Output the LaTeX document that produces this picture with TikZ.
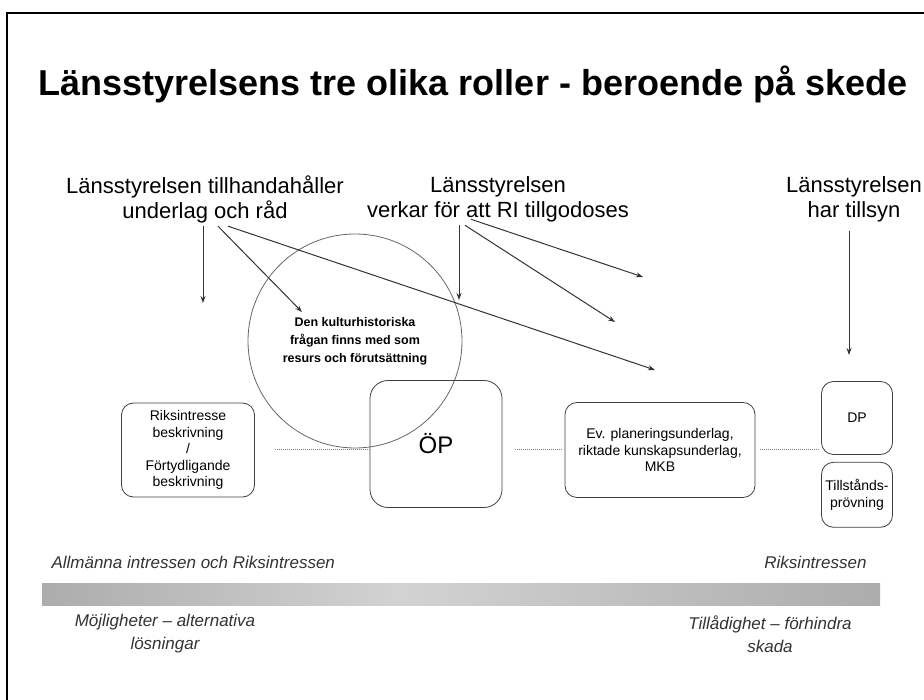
\documentclass[tikz,border=0pt]{standalone}
\usepackage{fontspec}
\setmainfont{Liberation Sans}
\usetikzlibrary{positioning, arrows.meta}

\begin{document}
\begin{tikzpicture}[x=1pt, y=-1pt,
    roundbox/.style={rectangle, rounded corners=12pt, draw=black!75, line width=0.8pt, align=center, inner sep=2pt, font=\fontsize{14}{16.5}\selectfont},
    rolelabel/.style={align=center, font=\fontsize{22}{25}\selectfont},
    thinarrow/.style={-{Stealth[length=7pt, width=5pt]}, line width=1pt, black!80},
    flowline/.style={gray, line width=1pt, densely dotted},
    baselabel/.style={align=center, font=\itshape\fontsize{17}{23}\selectfont, text=black!80}
]
\useasboundingbox (0,0) rectangle (924,700);
% page frame of the scan
\draw[line width=1.2pt] (7,700) -- (7,13) -- (924,13);

\node[font=\bfseries\fontsize{36}{40}\selectfont, anchor=base](title) at (473,96) {Länsstyrelsens tre olika roller - beroende på skede};

% the three roles
\node[rolelabel](role1) at (205,199) {Länsstyrelsen tillhandahåller\\underlag och råd};
\node[rolelabel](role2) at (498,199) {Länsstyrelsen\\verkar för att RI tillgodoses};
\node[rolelabel](role3) at (854,199) {Länsstyrelsen\\har tillsyn};

% circle and boxes
\node[circle, draw=black!60, line width=0.8pt, minimum size=214pt, align=center, font=\bfseries\fontsize{12.5}{18}\selectfont](circ) at (355,341) {Den kulturhistoriska\\frågan finns med som\\resurs och förutsättning};
\node[roundbox, minimum width=133pt, minimum height=94pt](lbox) at (188,450) {Riksintresse\\beskrivning\\/\\Förtydligande\\beskrivning};
\node[roundbox, minimum width=132pt, minimum height=127pt, rounded corners=18pt, font=\fontsize{24}{28}\selectfont](op) at (436,444) {ÖP};
\node[roundbox, minimum width=190pt, minimum height=95pt](plan) at (660,450) {Ev. planeringsunderlag,\\riktade kunskapsunderlag,\\MKB};
\node[roundbox, minimum width=71pt, minimum height=73pt](dp) at (857,418) {DP};
\node[roundbox, minimum width=71pt, minimum height=65pt, inner sep=1pt](tp)[below = 7pt of dp] {Tillstånds-\\prövning};

% arrow ends
\coordinate (t1) at (203,303);
\coordinate (t2) at (302,312);
\coordinate (t3) at (655,370);
\coordinate (t4) at (459,300);
\coordinate (t5) at (615,322);
\coordinate (t6) at (643,277);
\coordinate (t7) at (849,355);

\draw[thinarrow] (role1.south -| t1) -- (t1);
\draw[thinarrow] ([xshift=13pt]role1.south) -- (t2);
\draw[thinarrow] ([xshift=23pt]role1.south) -- (t3);
\draw[thinarrow] (role2.south -| t4) -- (t4);
\draw[thinarrow] ([xshift=-33pt]role2.south) -- (t5);
\draw[thinarrow] ([xshift=-27pt, yshift=6pt]role2.south) -- (t6);
\draw[thinarrow] ([yshift=-6pt]role3.south -| t7) -- (t7);

\draw[flowline, shorten <=20pt] (lbox.east) -- (lbox.east -| op.west);
\draw[flowline, shorten <=13pt, shorten >=3pt] (op.east |- plan.west) -- (plan.west);
\draw[flowline, shorten <=5pt, shorten >=2pt] (plan.east) -- (plan.east -| dp.west);

% bottom scale
\node[baselabel, anchor=base west](general) at (48,568) {Allmänna intressen och Riksintressen};
\node[baselabel, anchor=base east](national) at (870,568) {Riksintressen};
\shade[left color=gray!65, right color=gray!35] (42,583) rectangle (400,605);
\shade[left color=gray!35, right color=gray!65] (400,583) rectangle (880,605);
\node[baselabel](chances) at (165,634) {Möjligheter – alternativa\\lösningar};
\node[baselabel](permit) at (770,634) {Tillådighet – förhindra\\skada};
\end{tikzpicture}
\end{document}
